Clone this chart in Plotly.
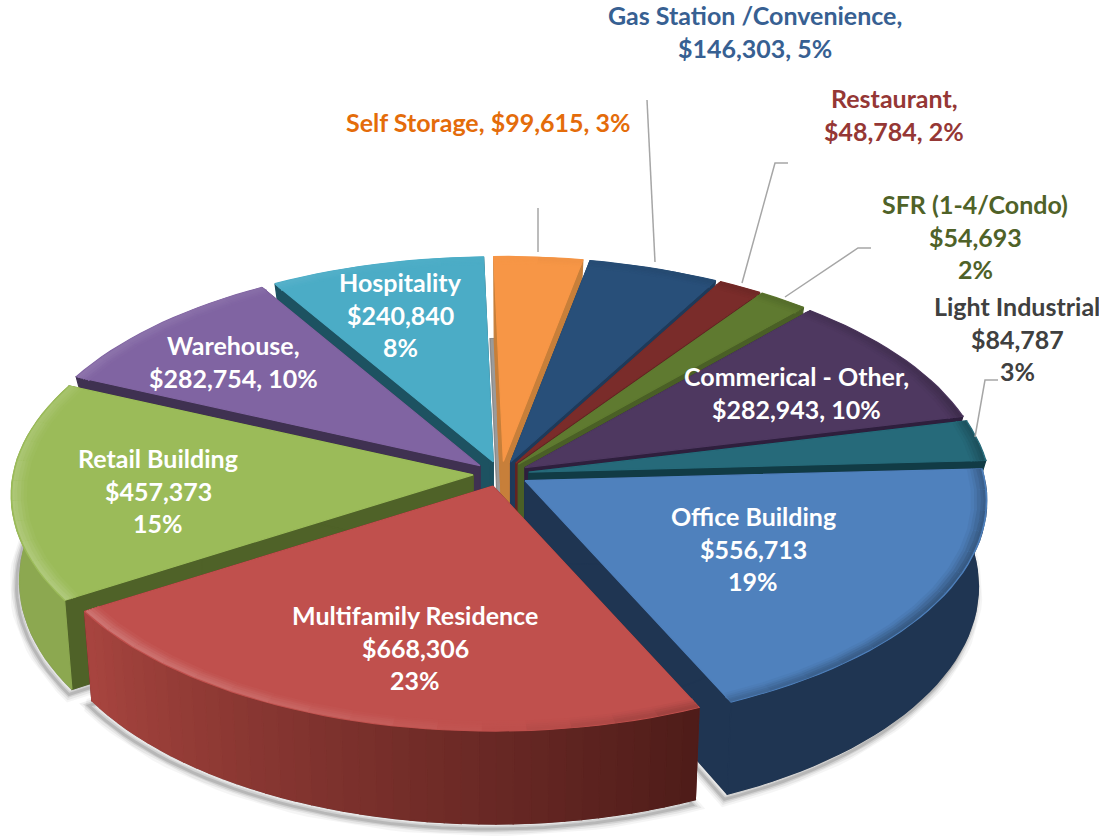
import math
import plotly.graph_objects as go

# ---- data ----
categories = ["Office Building", "Multifamily Residence", "Retail Building", "Warehouse", "Hospitality",
              "Self Storage", "Gas Station /Convenience", "Restaurant", "SFR (1-4/Condo)",
              "Commerical - Other", "Light Industrial"]
values = [556713, 668306, 457373, 282754, 240840, 99615, 146303, 48784, 54693, 282943, 84787]
percents = [19, 23, 15, 10, 8, 3, 5, 2, 2, 10, 3]

# ---- styles ----
top_colors = ["#4F81BD", "#C0504D", "#9BBB59", "#8064A2", "#4BACC6", "#F79646", "#284F79", "#7A2C2A", "#5F7A30", "#4E3860", "#266A7A"]
side_colors = ["#1F3552", "#632423", "#4F6228", "#3F3151", "#1D5261", "#C77F3A", "#1E3A5A", "#632423", "#4A5F26", "#2E1F3D", "#113B45"]
wall_start = ["#1F3552", "#4E1C19", "#8CA850", "#5F4A7A", "#2F7F95", "#B9702F", "#1E3A5A", "#632423", "#4A5F26", "#2E1F3D", "#1C5260"]
wall_end = ["#1F3552", "#A8453F", "#8CA850", "#5F4A7A", "#2F7F95", "#B9702F", "#1E3A5A", "#632423", "#4A5F26", "#2E1F3D", "#1C5260"]
label_colors = ["white", "white", "white", "white", "white", "#E46C0A", "#376092", "#953735", "#4F6228", "white", "#404040"]
# label layout: centre x, first-line y, style
label_x = [753, 415, 158, 233, 400, 488, 755, 894, 975, 796, 1017]
label_y = [516, 615, 458, 345, 282, 122, 15, 98, 204, 376, 306]
label_style = [3, 3, 3, 2, 3, 1, 2, 2, 3, 2, 3]
leader_lines = [
    [(647, 100), (655, 262)],
    [(538, 208), (538, 252)],
    [(788, 163), (775, 163), (742, 283)],
    [(871, 248), (858, 248), (785, 297)],
    [(998, 380), (985, 380), (975, 437)],
]
FONT = "Lato"
FS = 25
LINE = 32.5

# ---- geometry ----
CX, CY, EXPLODE, KY = 501, 474, 28, 0.45
START = -3.0
total = sum(values)
spans, a = [], START
for v in values:
    s = v / total * 360
    spans.append((a, a + s))
    a += s


def rgb(h):
    h = h.lstrip("#")
    return tuple(int(h[i:i + 2], 16) for i in (0, 2, 4))


def mix(c1, c2, t):
    a_, b_ = rgb(c1), rgb(c2)
    return "#%02X%02X%02X" % tuple(round(a_[i] + (b_[i] - a_[i]) * t) for i in range(3))


def point(i, deg, r=1.0, z=0.0):
    a0, a1 = spans[i]
    b = math.radians((a0 + a1) / 2)
    th = math.radians(deg)
    u, w = r * math.cos(th), r * math.sin(th)
    x = CX + EXPLODE * math.cos(b) + u * (460 + 42 * w) * (1 - .018 * z)
    y = CY + EXPLODE * KY * math.sin(b) + w * (225 + 20 * w) + z * (85 + 8 * w)
    return x, y


def arc(i, a0, a1, r=1.0, z=0.0, step=2.0):
    n = max(1, int(abs(a1 - a0) / step))
    return [point(i, a0 + (a1 - a0) * k / n, r, z) for k in range(n + 1)]


fig = go.Figure()


def poly(pts, fill, line=None, width=0.0):
    fig.add_trace(go.Scatter(
        x=[p[0] for p in pts] + [pts[0][0]], y=[p[1] for p in pts] + [pts[0][1]],
        mode="lines", fill="toself", fillcolor=fill,
        line=dict(color=line or fill, width=width if line else 1.2),
        hoverinfo="skip", showlegend=False))


def path(pts, color, width):
    fig.add_trace(go.Scatter(x=[p[0] for p in pts], y=[p[1] for p in pts], mode="lines",
                             line=dict(color=color, width=width), hoverinfo="skip", showlegend=False))


def is_back(i):
    return math.sin(math.radians(sum(spans[i]) / 2)) < 0


order = sorted(range(len(values)), key=lambda i: math.sin(math.radians(sum(spans[i]) / 2)))

# soft shadow under the slices that show their outer wall, flat grey in the gaps between back slices
for i in range(len(values)):
    a0, a1 = spans[i]
    base = [point(i, a0, 0, 1)] + arc(i, a0, a1, 1, 1)
    if is_back(i):
        poly([(x - 4, y + 5) for x, y in base], "rgba(120,120,120,.75)")
    else:
        soft = [(x - 3, y + 5) for x, y in base]
        for width, alpha in ((14, .04), (10, .06), (6, .09), (3, .12)):
            path(soft + [soft[0]], "rgba(0,0,0,%s)" % alpha, width)
        poly(base, "rgba(120,120,120,.75)")


def draw_sides(i):
    a0, a1 = spans[i]
    low = .96 if is_back(i) else 1  # keep a back slice's wall behind the slices in front of it
    for ang in (a0, a1):
        poly([point(i, ang, 0), point(i, ang, 1), point(i, ang, low, 1), point(i, ang, 0, 1)], side_colors[i])
    poly(arc(i, a0, a1, .6, 1) + [point(i, a0, 0, 1)], side_colors[i])


def draw_wall(i):
    a0, a1 = spans[i]
    strips = max(1, int((a1 - a0) / 2)) if wall_start[i] != wall_end[i] else 1
    for k in range(strips):
        s0 = a0 + (a1 - a0) * k / strips
        s1 = a0 + (a1 - a0) * (k + 1) / strips
        col = mix(wall_start[i], wall_end[i], (k + .5) / strips)
        poly(arc(i, s0, s1) + arc(i, s1, s0, 1, 1), col)


for i in order:
    a0, a1 = spans[i]
    draw_sides(i)
    if not is_back(i):
        draw_wall(i)
    # top face
    poly([point(i, a0, 0)] + arc(i, a0, a1), top_colors[i])
    # bevel along the rim: overlapping bands from inside out
    seg = max(1, int((a1 - a0) / 5))
    for r, weight, width in ((.972, .15, 5), (.978, .35, 4), (.984, .6, 4), (.99, .85, 3), (.995, 1, 2.5)):
        for k in range(seg):
            s0 = a0 + (a1 - a0) * k / seg
            s1 = a0 + (a1 - a0) * (k + 1) / seg
            mid = math.radians((s0 + s1) / 2)
            l = -math.cos(mid)
            front = .35 + .65 * max(0.0, math.sin(mid) + .5) / 1.5
            target, amt = ("#FFFFFF", .3 * l) if l > 0 else ("#000000", .45 * -l)
            path(arc(i, s0, s1, r), mix(top_colors[i], target, amt * weight * front), width)

# leader lines
for ln in leader_lines:
    path(ln, "#A6A6A6", 1.5)

# labels
annotations = []
for i, name in enumerate(categories):
    money = "${:,}".format(values[i])
    pct = "%d%%" % percents[i]
    style = label_style[i]
    if style == 3:
        lines = [name, money, pct]
    elif style == 2:
        lines = [name + ",", money + ", " + pct]
    else:
        lines = [name + ", " + money + ", " + pct]
    for k, txt in enumerate(lines):
        annotations.append(dict(x=label_x[i], y=label_y[i] + k * LINE, xref="x", yref="y", text="<b>%s</b>" % txt,
                                showarrow=False, xanchor="center", yanchor="middle",
                                font=dict(family=FONT, size=FS, color=label_colors[i])))

fig.update_layout(
    width=1099, height=836, autosize=False, margin=dict(l=0, r=0, t=0, b=0),
    paper_bgcolor="white", plot_bgcolor="white", showlegend=False,
    xaxis=dict(range=[0, 1099], visible=False, fixedrange=True),
    yaxis=dict(range=[836, 0], visible=False, fixedrange=True),
    annotations=annotations,
)
fig.write_html("out.html", config={"displayModeBar": False},
               post_script="document.documentElement.style.overflow='hidden';document.body.style.margin='0';")
